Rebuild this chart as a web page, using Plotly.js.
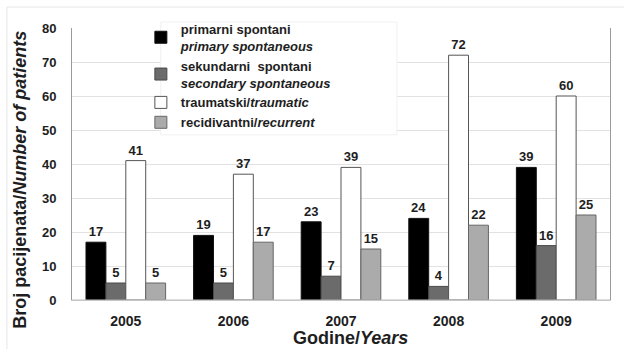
<!DOCTYPE html>
<html>
<head>
<meta charset="utf-8">
<script src="https://cdn.plot.ly/plotly-3.0.1.min.js"></script>
<style>
  html, body { margin: 0; padding: 0; background: #fff; }
  #chart { width: 624px; height: 349px; }
  .legendtext { font-weight: bold !important; }
</style>
</head>
<body>
<div id="chart"></div>
<script>
// Pneumothorax patients by type and year
const years = ['2005', '2006', '2007', '2008', '2009'];
const primary = [17, 19, 23, 24, 39];
const secondary = [5, 5, 7, 4, 16];
const traumatic = [41, 37, 39, 72, 60];
const recurrent = [5, 17, 15, 22, 25];

const seriesNames = [
  'primarni spontani<br><i>primary spontaneous</i>',
  'sekundarni  spontani<br><i>secondary spontaneous</i>',
  'traumatski/<i>traumatic</i>',
  'recidivantni/<i>recurrent</i>'
];
const seriesValues = [primary, secondary, traumatic, recurrent];
const fills = ['#000000', '#6b6b6b', '#ffffff', '#ababab'];
const outlines = ['#111111', '#4a4a4a', '#555555', '#666666'];

const FONT = '"Liberation Sans", Arial, sans-serif';
const INK = '#1e1e1e';

const traces = seriesValues.map((vals, i) => ({
  type: 'bar',
  x: years,
  y: vals,
  name: seriesNames[i],
  marker: { color: fills[i], line: { color: outlines[i], width: 1 } },
  text: vals.map(String),
  textposition: 'outside',
  cliponaxis: false,
  textfont: { family: FONT, size: 13, color: INK, weight: 'bold' }
}));

const layout = {
  width: 624,
  height: 349,
  margin: { l: 72, r: 14, t: 28, b: 49, autoexpand: false },
  paper_bgcolor: '#ffffff',
  plot_bgcolor: '#ffffff',
  barmode: 'group',
  bargap: 0.26,
  bargroupgap: 0,
  showlegend: true,
  legend: {
    x: 0.128, y: 1.052, xanchor: 'left', yanchor: 'top',
    bgcolor: 'rgba(255,255,255,0)', bordercolor: '#ffffff', borderwidth: 0,
    font: { family: FONT, size: 13, color: INK, weight: 'bold' },
    tracegroupgap: 0,
    itemwidth: 30
  },
  xaxis: {
    showline: true, linecolor: '#cfcfcf', linewidth: 1, mirror: false,
    ticks: '', ticklabelstandoff: 8,
    tickfont: { family: FONT, size: 14, color: INK, weight: 'bold' }
  },
  yaxis: {
    range: [0, 80], dtick: 10,
    showgrid: true, gridcolor: '#e2e2e2', gridwidth: 1,
    zeroline: false,
    showline: true, linecolor: '#9a9a9a', linewidth: 1, mirror: true,
    ticks: '', ticklabelstandoff: 12,
    tickfont: { family: FONT, size: 13, color: INK, weight: 'bold' }
  },
  shapes: [
    // white legend panel laid over the grid
    { type: 'rect', layer: 'above', xref: 'paper', yref: 'paper',
      x0: 0.165, x1: 0.604, y0: 0.607, y1: 1.022,
      fillcolor: '#ffffff', line: { color: '#f1f1f1', width: 1 } },
    // outer frame, top and left edges
    { type: 'line', xref: 'paper', yref: 'paper', x0: -0.121, x1: 1.03, y0: 1.077, y1: 1.077,
      line: { color: '#e6e6e6', width: 1 } },
    { type: 'line', xref: 'paper', yref: 'paper', x0: -0.121, x1: -0.121, y0: 1.077, y1: -0.18,
      line: { color: '#e6e6e6', width: 1 } },
    // baseline drawn over the feet of the bars
    { type: 'line', xref: 'paper', yref: 'paper', x0: 0, x1: 1, y0: 0, y1: 0,
      line: { color: '#bdbdbd', width: 1 } }
  ],
  annotations: [
    {
      text: '<b>Broj pacijenata/<i>Number of patients</i></b>',
      xref: 'paper', yref: 'paper', x: -0.097, y: 0.441,
      xanchor: 'center', yanchor: 'middle', textangle: -90, showarrow: false,
      font: { family: FONT, size: 18, color: INK }
    },
    {
      text: '<b>Godine/<i>Years</i></b>',
      xref: 'paper', yref: 'paper', x: 0.517, y: -0.14,
      xanchor: 'center', yanchor: 'middle', showarrow: false,
      font: { family: FONT, size: 18, color: INK }
    }
  ]
};

Plotly.newPlot('chart', traces, layout, { displayModeBar: false, staticPlot: true });
</script>
</body>
</html>
